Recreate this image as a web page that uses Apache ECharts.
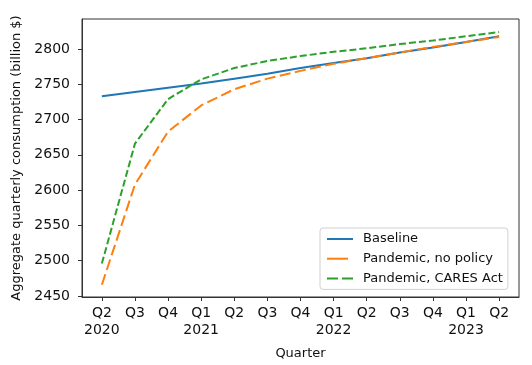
<!DOCTYPE html>
<html>
<head>
<meta charset="utf-8">
<script src="https://cdn.jsdelivr.net/npm/echarts@6/dist/echarts.min.js"></script>
<style>html,body{margin:0;padding:0;background:#fff}#c{width:532px;height:365px}</style>
</head>
<body>
<div id="c"></div>
<script>
var quarterLabels = ['Q2\n2020','Q3','Q4','Q1\n2021','Q2','Q3','Q4','Q1\n2022','Q2','Q3','Q4','Q1\n2023','Q2'];
var baseline = [2733, 2739, 2745, 2751, 2758, 2765, 2773, 2780, 2787, 2795, 2802, 2810, 2818];
var noPolicy = [2466, 2608, 2683, 2720, 2743, 2758, 2769, 2779, 2787, 2795, 2803, 2810, 2817];
var caresAct = [2496, 2666, 2729, 2757, 2773, 2783, 2790, 2796, 2801, 2807, 2812, 2818, 2824];
var yTicks = [2450, 2500, 2550, 2600, 2650, 2700, 2750, 2800];

function pairs(arr){ return arr.map(function(v,i){ return [i, v]; }); }
var xIdx = quarterLabels.map(function(_, i){ return i; });

var font = 'DejaVu Sans';
var chart = echarts.init(document.getElementById('c'), null, {renderer:'canvas'});
chart.setOption({
  animation: false,
  backgroundColor: '#fff',
  textStyle: {fontFamily: font},
  grid: {left: 82, top: 19, right: 13, bottom: 68, show: true, borderColor: '#333', borderWidth: 1, backgroundColor: 'transparent'},
  xAxis: {
    type: 'value', min: -0.6, max: 12.6,
    name: 'Quarter', nameLocation: 'middle', nameGap: 50,
    nameTextStyle: {fontSize: 13, color: '#111', fontFamily: font},
    axisLine: {show: true, onZero: false, lineStyle: {color: '#333', width: 1}},
    axisTick: {show: true, length: 4, lineStyle: {color: '#333'}, customValues: xIdx},
    axisLabel: {customValues: xIdx, fontSize: 14, color: '#111', lineHeight: 17, margin: 8, fontFamily: font,
      formatter: function(v){ var i = Math.round(v); return quarterLabels[i] || ''; }},
    splitLine: {show: false}
  },
  yAxis: {
    type: 'value', min: 2448.6, max: 2842.5,
    name: 'Aggregate quarterly consumption (billion $)', nameLocation: 'middle', nameGap: 55, nameRotate: 90,
    nameTextStyle: {fontSize: 13, color: '#111', fontFamily: font},
    axisLine: {show: true, onZero: false, lineStyle: {color: '#333', width: 1}},
    axisTick: {show: true, length: 4, lineStyle: {color: '#333'}, customValues: yTicks},
    axisLabel: {customValues: yTicks, fontSize: 14, color: '#111', margin: 12, fontFamily: font,
      formatter: function(v){ return String(Math.round(v)); }},
    splitLine: {show: false}
  },
  legend: {
    orient: 'vertical', left: 320, top: 228,
    padding: [4, 5, 4, 6],
    itemWidth: 26, itemHeight: 14, itemGap: 5.7,
    borderColor: '#d0d0d0', borderWidth: 1, borderRadius: 3,
    backgroundColor: 'rgba(255,255,255,0.8)',
    itemStyle: {opacity: 0},
    textStyle: {fontSize: 13, color: '#111', fontFamily: font, lineHeight: 14, padding: [0,0,0,5]},
    data: [
      {name: 'Baseline'},
      {name: 'Pandemic, no policy', lineStyle: {type: [21, 10]}},
      {name: 'Pandemic, CARES Act', lineStyle: {type: [11, 4]}}
    ]
  },
  series: [
    {name: 'Baseline', type: 'line', data: pairs(baseline), symbol: 'none', color: '#1f77b4',
     lineStyle: {color: '#1f77b4', width: 2, type: 'solid'}},
    {name: 'Pandemic, no policy', type: 'line', data: pairs(noPolicy), symbol: 'none', color: '#ff7f0e',
     lineStyle: {color: '#ff7f0e', width: 2, type: [11, 4.5]}},
    {name: 'Pandemic, CARES Act', type: 'line', data: pairs(caresAct), symbol: 'none', color: '#2ca02c',
     lineStyle: {color: '#2ca02c', width: 2, type: [7, 3]}}
  ]
});
</script>
</body>
</html>
